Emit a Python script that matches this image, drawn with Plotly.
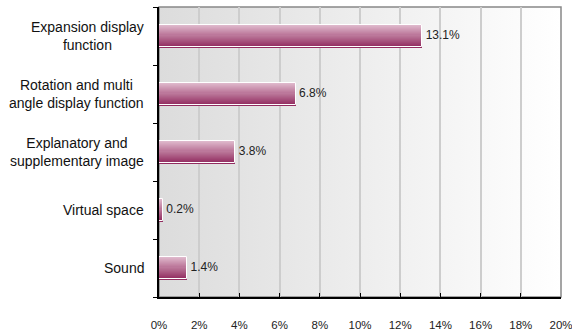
import plotly.graph_objects as go

categories = ["Expansion display<br>function",
              "Rotation and multi<br>angle display function",
              "Explanatory and<br>supplementary image",
              "Virtual space",
              "Sound"]
values = [13.1, 6.8, 3.8, 0.2, 1.4]
x_ticks = [0, 2, 4, 6, 8, 10, 12, 14, 16, 18, 20]
x_tick_labels = [f"{t}%" for t in x_ticks]

FONT = "Liberation Sans, Arial, sans-serif"
BAR_W = 0.39
N = 22
top_rgb = (226, 190, 208)
bot_rgb = (146, 44, 96)

fig = go.Figure()
yidx = list(range(len(categories)))
for i in range(N):
    t = i / (N - 1)
    c = tuple(round(top_rgb[k] + (bot_rgb[k] - top_rgb[k]) * t) for k in range(3))
    s = BAR_W / N
    fig.add_trace(go.Bar(
        y=yidx, x=values, orientation="h",
        width=s * 1.05, offset=-BAR_W / 2 + i * s,
        marker=dict(color=f"rgb{c}", line=dict(width=0)),
        hoverinfo="skip", showlegend=False,
    ))
# outline
fig.add_trace(go.Bar(
    y=yidx, x=values, orientation="h", width=BAR_W,
    marker=dict(color="rgba(0,0,0,0)", line=dict(color="#ffffff", width=1)),
    showlegend=False,
))
# value labels
fig.add_trace(go.Scatter(
    y=yidx, x=values, mode="text",
    text=[f"\u00a0{v}%" for v in values], textposition="middle right",
    textfont=dict(family=FONT, size=12, color="#222222"),
    cliponaxis=False, showlegend=False, hoverinfo="skip",
))

grad_svg = ("data:image/svg+xml;utf8,<svg xmlns='http://www.w3.org/2000/svg' width='100' height='10' preserveAspectRatio='none'>"
            "<defs><linearGradient id='g' x1='0' x2='1' y1='0' y2='0'>"
            "<stop offset='0' stop-color='%23dcdcdc'/><stop offset='1' stop-color='%23ffffff'/>"
            "</linearGradient></defs><rect width='100' height='10' fill='url(%23g)'/></svg>")

annotations = []
for i, c in enumerate(categories):
    annotations.append(dict(
        x=-0.032, y=i, xref="paper", yref="y", text=c, showarrow=False,
        xanchor="right", yanchor="middle", align="center",
        font=dict(family=FONT, size=14, color="#111111"),
    ))

fig.update_layout(
    width=572, height=335,
    margin=dict(l=159, r=11, t=7, b=38, autoexpand=False),
    paper_bgcolor="white", plot_bgcolor="rgba(0,0,0,0)",
    barmode="overlay", bargap=0,
    font=dict(family=FONT, size=12, color="#222222"),
    annotations=annotations,
    images=[dict(source=grad_svg, xref="paper", yref="paper", x=0, y=1,
                 sizex=1, sizey=1, sizing="stretch", layer="below",
                 xanchor="left", yanchor="top")],
    shapes=[dict(type="rect", xref="paper", yref="paper", x0=0, x1=1, y0=0, y1=1,
                 line=dict(color="#888888", width=1.5), layer="below")],
    xaxis=dict(range=[0, 20], tickvals=x_ticks, ticktext=x_tick_labels,
               showgrid=True, gridcolor="#cdcdcd", gridwidth=1.5,
               ticks="inside", ticklen=4, tickcolor="#000000", tickwidth=1,
               showline=True, linecolor="#000000", linewidth=1.5,
               zeroline=False, ticklabelstandoff=16, automargin=False,
               ticklabeloverflow="allow",
               tickfont=dict(family=FONT, size=11.5, color="#222222"),
               fixedrange=True),
    yaxis=dict(range=[4.5, -0.5], tickmode="array",
               tickvals=[-0.5, 0.5, 1.5, 2.5, 3.5, 4.5], ticktext=[""] * 6,
               showticklabels=False, showgrid=False, zeroline=False,
               ticks="outside", ticklen=4, tickcolor="#000000", tickwidth=1,
               showline=True, linecolor="#000000", linewidth=1.5,
               automargin=False, fixedrange=True),
)

fig.write_html("out.html", config={"displayModeBar": False},
               post_script="document.body.style.margin='0';document.body.style.overflow='hidden';")
